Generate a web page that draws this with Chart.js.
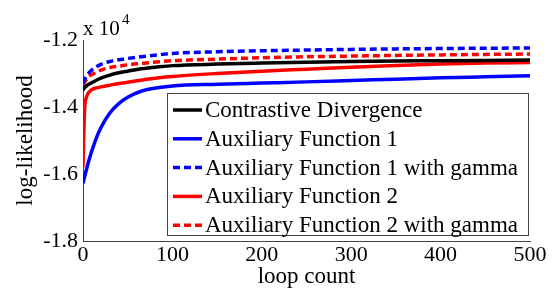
<!DOCTYPE html>
<html>
<head>
<meta charset="utf-8">
<script src="https://cdn.jsdelivr.net/npm/chart.js@4.4.1/dist/chart.umd.min.js"></script>
<style>
  html, body { margin: 0; padding: 0; background: #fff; }
  #chart { display: block; }
</style>
</head>
<body>
<canvas id="chart" width="553" height="294"></canvas>
<script>
const loops = [0, 1, 2, 4, 6, 8, 10, 15, 20, 30, 40, 50, 65, 85, 100, 150, 200, 250, 300, 350, 400, 450, 500];

const contrastive = [-13500, -13450, -13420, -13370, -13330, -13300, -13270, -13200, -13140, -13050, -12980, -12930, -12860, -12800, -12765, -12720, -12690, -12665, -12645, -12630, -12620, -12610, -12600];
const aux1 = [-16280, -16170, -16060, -15850, -15650, -15470, -15300, -14920, -14620, -14180, -13900, -13710, -13530, -13420, -13370, -13320, -13285, -13250, -13210, -13170, -13130, -13100, -13070];
const aux1Gamma = [-13300, -13230, -13170, -13070, -13000, -12940, -12890, -12800, -12730, -12640, -12590, -12550, -12500, -12440, -12400, -12350, -12320, -12300, -12280, -12265, -12255, -12245, -12240];
const aux2 = [-15800, -14700, -14000, -13700, -13580, -13520, -13480, -13430, -13400, -13350, -13300, -13260, -13200, -13130, -13090, -13000, -12930, -12870, -12810, -12760, -12720, -12690, -12670];
const aux2Gamma = [-13350, -13300, -13250, -13170, -13110, -13060, -13030, -12960, -12900, -12820, -12780, -12740, -12700, -12650, -12620, -12570, -12530, -12500, -12480, -12460, -12445, -12430, -12420];

const seriesNames = [
  "Contrastive Divergence",
  "Auxiliary Function 1",
  "Auxiliary Function 1 with gamma",
  "Auxiliary Function 2",
  "Auxiliary Function 2 with gamma",
];
const yTicks = [-18000, -16000, -14000, -12000];
const xTicks = [0, 100, 200, 300, 400, 500];

const FONT = "'Liberation Serif', 'Times New Roman', serif";

function pts(values) {
  return loops.map((x, i) => ({ x: x, y: values[i] }));
}

function line(label, values, color, dash) {
  return {
    label: label,
    data: pts(values),
    borderColor: color,
    backgroundColor: color,
    borderWidth: 3.5,
    borderDash: dash,
    pointRadius: 0,
    cubicInterpolationMode: "monotone",
    fill: false,
  };
}

// boxed legend drawn inside the plot, like the matlab one
const boxLegend = {
  id: "boxLegend",
  afterDraw(chart) {
    const ctx = chart.ctx;
    ctx.save();
    ctx.fillStyle = "#fff";
    ctx.strokeStyle = "#444";
    ctx.lineWidth = 1;
    ctx.fillRect(167.5, 93.5, 361, 142);
    ctx.strokeRect(167.5, 93.5, 361, 142);
    ctx.font = "23px " + FONT;
    ctx.textBaseline = "middle";
    chart.data.datasets.forEach((ds, i) => {
      const y = 110 + i * 28.8;
      ctx.strokeStyle = ds.borderColor;
      ctx.lineWidth = 3.5;
      ctx.setLineDash(ds.borderDash || []);
      ctx.beginPath();
      ctx.moveTo(173, y);
      ctx.lineTo(202, y);
      ctx.stroke();
      ctx.setLineDash([]);
      ctx.fillStyle = "#000";
      ctx.fillText(ds.label, 205, y + 1);
    });
    // exponent label above the y axis
    ctx.textBaseline = "alphabetic";
    ctx.font = "21px " + FONT;
    ctx.fillText("x 10", 83, 35);
    ctx.font = "15px " + FONT;
    ctx.fillText("4", 122, 24);
    ctx.restore();
  },
};

const config = {
  type: "line",
  data: {
    datasets: [
      line(seriesNames[0], contrastive, "#000000", []),
      line(seriesNames[1], aux1, "#0000ff", []),
      line(seriesNames[2], aux1Gamma, "#0000ff", [7, 4]),
      line(seriesNames[3], aux2, "#ff0000", []),
      line(seriesNames[4], aux2Gamma, "#ff0000", [7, 4]),
    ],
  },
  options: {
    responsive: false,
    devicePixelRatio: 1,
    animation: false,
    layout: { padding: { top: 40, right: 23, left: 0, bottom: 0 } },
    plugins: {
      legend: { display: false },
      tooltip: { enabled: false },
    },
    scales: {
      x: {
        type: "linear",
        min: 0,
        max: 500,
        afterBuildTicks(scale) {
          scale.ticks = xTicks.map((v) => ({ value: v }));
        },
        afterFit(scale) {
          scale.height = 53;
        },
        grid: { display: false, drawTicks: false },
        border: { display: true, color: "#444", width: 1 },
        ticks: {
          color: "#000",
          padding: 1,
          maxRotation: 0,
          font: { family: FONT, size: 22 },
        },
        title: {
          display: true,
          text: "loop count",
          color: "#000",
          padding: { top: 0, bottom: 3 },
          font: { family: FONT, size: 23 },
        },
      },
      y: {
        min: -18000,
        max: -12000,
        afterBuildTicks(scale) {
          scale.ticks = yTicks.map((v) => ({ value: v }));
        },
        afterFit(scale) {
          scale.width = 83;
        },
        grid: { display: false, drawTicks: false },
        border: { display: true, color: "#444", width: 1 },
        ticks: {
          color: "#000",
          padding: 5,
          font: { family: FONT, size: 22 },
          callback: (v) => (v / 10000).toFixed(1),
        },
        title: {
          display: true,
          text: "log-likelihood",
          color: "#000",
          padding: { top: 12, bottom: 0 },
          font: { family: FONT, size: 23 },
        },
      },
    },
  },
  plugins: [boxLegend],
};

window.onload = function () {
  window.myChart = new Chart(document.getElementById("chart"), config);
};
</script>
</body>
</html>
